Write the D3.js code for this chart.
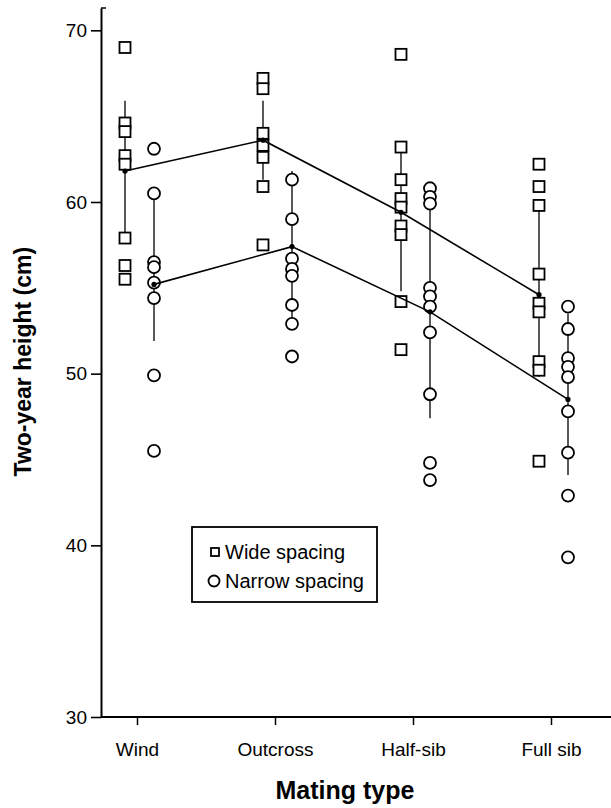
<!DOCTYPE html>
<html>
<head>
<meta charset="utf-8">
<script src="https://cdn.jsdelivr.net/npm/d3@7"></script>
<style>
  body { margin: 0; background: #fff; }
  svg { display: block; font-family: "Liberation Sans", Arial, sans-serif; }
</style>
</head>
<body>
<svg id="chart"></svg>
<script>
// mating types along the x axis
const categories = ['Wind', 'Outcross', 'Half-sib', 'Full sib'];

// individual family values
const wideValues = [
  [69.0, 64.6, 64.1, 62.7, 62.2, 57.9, 56.3, 55.5],
  [67.2, 66.6, 64.0, 63.3, 62.6, 60.9, 57.5],
  [68.6, 63.2, 61.3, 60.2, 59.7, 58.6, 58.1, 54.2, 51.4],
  [62.2, 60.9, 59.8, 55.8, 54.1, 53.6, 50.7, 50.2, 44.9]
];
const narrowValues = [
  [63.1, 60.5, 56.5, 56.2, 55.3, 54.4, 49.9, 45.5],
  [61.3, 59.0, 56.7, 56.1, 55.7, 54.0, 52.9, 51.0],
  [60.8, 60.3, 59.9, 55.0, 54.5, 53.9, 52.4, 48.8, 44.8, 43.8],
  [53.9, 52.6, 50.9, 50.4, 49.8, 47.8, 45.4, 42.9, 39.3]
];

// means and vertical bars
const wideMeans = [61.8, 63.6, 59.4, 54.6];
const narrowMeans = [55.2, 57.4, 53.6, 48.5];
const wideLow = [57.7, 61.3, 54.8, 49.8];
const wideHigh = [65.9, 65.9, 63.5, 59.6];
const narrowLow = [51.9, 52.9, 47.4, 44.1];
const narrowHigh = [60.3, 61.8, 59.7, 53.5];

const yTicks = [30, 40, 50, 60, 70];

const width = 611, height = 808;
const axisX = 101;
const sqOff = -12, ciOff = 17;

const svg = d3.select('#chart').attr('width', width).attr('height', height);

const y = d3.scaleLinear().domain([30, 71.3]).range([717, 8]);
const x = d3.scalePoint().domain(categories).range([137, 551]);

// y axis
const yAxis = svg.append('g')
  .attr('transform', `translate(${axisX},0)`)
  .call(d3.axisLeft(y).tickValues(yTicks).tickSize(10).tickSizeOuter(0).tickPadding(4));
yAxis.select('.domain').attr('stroke-width', 2);
yAxis.selectAll('.tick line').attr('stroke-width', 1.6);
yAxis.selectAll('.tick text').attr('font-size', 19).attr('fill', '#000');
yAxis.append('line')
  .attr('x1', 0).attr('x2', 5).attr('y1', y.range()[1]).attr('y2', y.range()[1])
  .attr('stroke', '#000').attr('stroke-width', 1.5);

// x axis
const xAxis = svg.append('g')
  .attr('transform', `translate(0,${y(30)})`)
  .call(d3.axisBottom(x).tickSize(8).tickPadding(18));
xAxis.select('.domain').remove();
xAxis.append('line')
  .attr('x1', axisX).attr('x2', width)
  .attr('stroke', '#000').attr('stroke-width', 2);
xAxis.selectAll('.tick line').attr('stroke-width', 1.5);
xAxis.selectAll('.tick text').attr('font-size', 19).attr('fill', '#000');

// axis titles
svg.append('text')
  .attr('transform', `translate(31,${(y(70) + y(30)) / 2 - 12}) rotate(-90)`)
  .attr('text-anchor', 'middle')
  .attr('font-size', 23).attr('font-weight', 'bold')
  .text('Two-year height (cm)');
svg.append('text')
  .attr('x', 345).attr('y', 799)
  .attr('text-anchor', 'middle')
  .attr('font-size', 25).attr('font-weight', 'bold')
  .text('Mating type');

function drawGroup(values, means, lo, hi, off, shape) {
  const g = svg.append('g');
  // vertical bars
  g.selectAll('line.bar')
    .data(categories)
    .enter().append('line')
    .attr('x1', d => x(d) + off).attr('x2', d => x(d) + off)
    .attr('y1', (d, i) => y(hi[i])).attr('y2', (d, i) => y(lo[i]))
    .attr('stroke', '#000').attr('stroke-width', 1.3);

  const pts = [];
  values.forEach((arr, i) => arr.forEach(v => pts.push({ c: categories[i], v })));
  if (shape === 'square') {
    g.selectAll('rect')
      .data(pts)
      .enter().append('rect')
      .attr('x', d => x(d.c) + off - 5.5).attr('y', d => y(d.v) - 5.5)
      .attr('width', 11).attr('height', 11)
      .attr('fill', '#fff').attr('stroke', '#000').attr('stroke-width', 1.8);
  } else {
    g.selectAll('circle')
      .data(pts)
      .enter().append('circle')
      .attr('cx', d => x(d.c) + off).attr('cy', d => y(d.v)).attr('r', 6)
      .attr('fill', '#fff').attr('stroke', '#000').attr('stroke-width', 1.8);
  }

  // line through the means
  const line = d3.line().x((d, i) => x(categories[i]) + off).y(d => y(d));
  g.append('path')
    .datum(means)
    .attr('d', line)
    .attr('fill', 'none').attr('stroke', '#000').attr('stroke-width', 1.6);
  g.selectAll('circle.mean')
    .data(means)
    .enter().append('circle')
    .attr('class', 'mean')
    .attr('cx', (d, i) => x(categories[i]) + off).attr('cy', d => y(d)).attr('r', 2.6)
    .attr('fill', '#000');
}

drawGroup(wideValues, wideMeans, wideLow, wideHigh, sqOff, 'square');
drawGroup(narrowValues, narrowMeans, narrowLow, narrowHigh, ciOff, 'circle');

// legend
const leg = svg.append('g').attr('transform', 'translate(192,527)');
leg.append('rect')
  .attr('width', 185).attr('height', 75)
  .attr('fill', '#fff').attr('stroke', '#000').attr('stroke-width', 1.8);
leg.append('rect')
  .attr('x', 19).attr('y', 21).attr('width', 8).attr('height', 8)
  .attr('fill', '#fff').attr('stroke', '#000').attr('stroke-width', 1.8);
leg.append('circle')
  .attr('cx', 22).attr('cy', 54).attr('r', 5.5)
  .attr('fill', '#fff').attr('stroke', '#000').attr('stroke-width', 1.8);
leg.append('text').attr('x', 33).attr('y', 32).attr('font-size', 20).text('Wide spacing');
leg.append('text').attr('x', 33).attr('y', 61).attr('font-size', 20).text('Narrow spacing');
</script>
</body>
</html>
